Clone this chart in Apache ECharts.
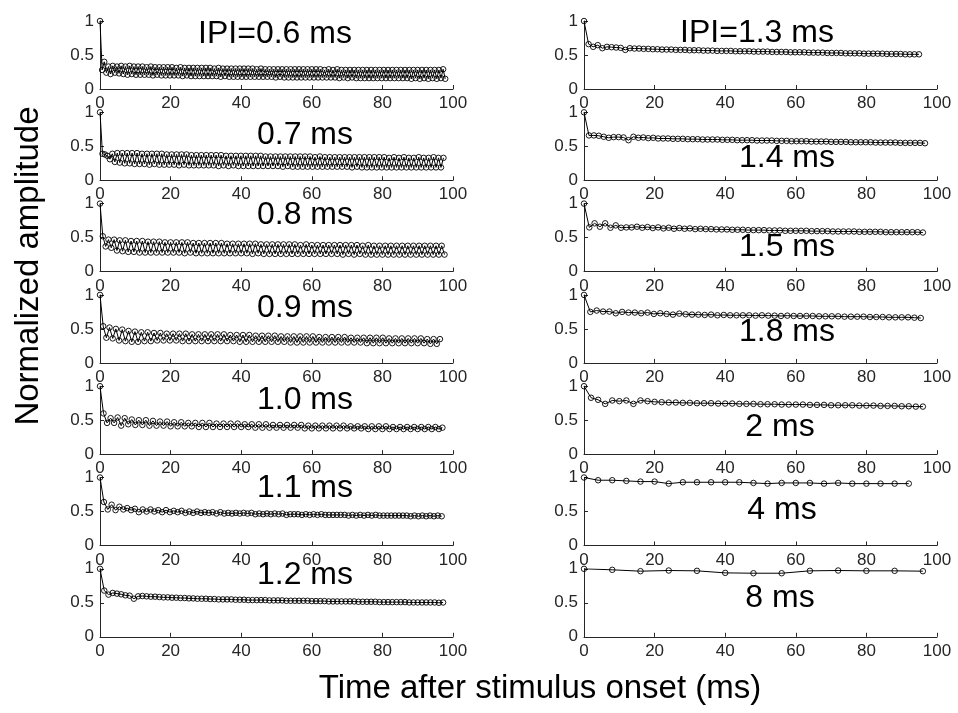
<!DOCTYPE html>
<html><head><meta charset="utf-8">
<script src="https://cdn.jsdelivr.net/npm/echarts@6/dist/echarts.min.js"></script>
<style>html,body{margin:0;padding:0;background:#fff}#c{width:958px;height:713px}</style>
</head><body><div id="c"></div>
<script>
const ipiMs = [0.6,0.7,0.8,0.9,1.0,1.1,1.2,1.3,1.4,1.5,1.8,2,4,8];
const panelTitles = ['IPI=0.6 ms','0.7 ms','0.8 ms','0.9 ms','1.0 ms','1.1 ms','1.2 ms','IPI=1.3 ms','1.4 ms','1.5 ms','1.8 ms','2 ms','4 ms','8 ms'];
const xTicks = [0,20,40,60,80,100];
const yTicks = [0,0.5,1];
const xLabel = 'Time after stimulus onset (ms)';
const yLabel = 'Normalized amplitude';

const amp06 = [1,.28,.40,.24,.33,.22,.34,.24,.33,.23,
.34,.22,.33,.21,.34,.22,.33,.21,.33,.21,
.33,.21,.32,.21,.33,.20,.32,.21,.32,.20,
.32,.20,.32,.20,.32,.20,.31,.20,.32,.19,
.31,.20,.31,.19,.31,.19,.31,.19,.31,.19,
.31,.19,.31,.19,.30,.19,.31,.18,.30,.19,
.30,.18,.30,.18,.30,.18,.30,.18,.30,.18,
.30,.18,.30,.18,.29,.18,.30,.18,.29,.18,
.29,.18,.29,.17,.29,.18,.29,.17,.29,.17,
.29,.17,.29,.17,.29,.17,.29,.17,.29,.17,
.29,.17,.29,.17,.29,.17,.28,.17,.29,.17,
.28,.17,.29,.16,.28,.17,.28,.16,.28,.17,
.28,.16,.28,.16,.28,.16,.28,.16,.28,.16,
.28,.16,.28,.16,.28,.16,.28,.16,.28,.16,
.28,.16,.28,.16,.28,.16,.28,.15,.28,.16,
.28,.15,.28,.16,.28,.15,.28,.16,.28,.15,
.28,.16,.29,.15];
const amp07 = [1,.39,.38,.36,.31,.39,.27,.40,.26,.40,
.25,.40,.25,.40,.24,.40,.24,.39,.24,.39,
.23,.39,.24,.39,.23,.39,.23,.38,.23,.38,
.23,.38,.22,.38,.23,.38,.22,.37,.22,.37,
.22,.37,.22,.37,.22,.37,.22,.37,.21,.37,
.22,.36,.21,.36,.22,.36,.21,.36,.21,.36,
.21,.36,.21,.36,.21,.36,.21,.35,.21,.35,
.21,.35,.21,.35,.20,.35,.21,.35,.20,.35,
.20,.35,.20,.35,.20,.35,.20,.34,.20,.35,
.20,.34,.20,.34,.20,.34,.20,.34,.20,.34,
.20,.34,.19,.34,.20,.34,.19,.34,.19,.34,
.19,.34,.19,.34,.19,.34,.19,.33,.19,.34,
.19,.33,.19,.34,.19,.33,.19,.33,.19,.34,
.19,.33,.19,.33,.19,.34,.19,.33,.19,.33];
const amp08 = [1,.52,.37,.47,.35,.47,.31,.46,.30,.46,
.29,.45,.29,.45,.28,.45,.28,.44,.28,.44,
.28,.44,.28,.43,.28,.43,.28,.43,.28,.43,
.27,.43,.28,.42,.27,.42,.27,.42,.27,.42,
.27,.42,.27,.42,.27,.41,.27,.41,.27,.41,
.27,.41,.27,.41,.26,.41,.27,.40,.26,.40,
.26,.40,.26,.40,.26,.40,.26,.40,.26,.40,
.26,.39,.26,.40,.26,.39,.26,.39,.26,.39,
.26,.39,.26,.39,.26,.39,.25,.39,.26,.39,
.25,.39,.26,.38,.25,.39,.25,.38,.25,.38,
.25,.38,.25,.38,.25,.38,.25,.38,.25,.38,
.25,.38,.25,.38,.25,.38,.25,.38,.25,.38,
.25,.38,.25];
const amp09 = [1,.54,.37,.52,.36,.50,.33,.49,.32,.47,
.31,.46,.31,.45,.32,.45,.32,.44,.33,.44,
.33,.43,.33,.43,.33,.43,.32,.43,.32,.42,
.32,.42,.32,.42,.32,.42,.32,.42,.32,.42,
.32,.41,.32,.41,.31,.41,.31,.41,.31,.40,
.31,.40,.31,.40,.31,.40,.31,.39,.31,.39,
.30,.39,.30,.39,.30,.39,.30,.39,.30,.38,
.30,.38,.30,.38,.30,.38,.30,.38,.30,.37,
.30,.37,.30,.37,.29,.37,.29,.37,.29,.37,
.29,.36,.29,.36,.29,.36,.29,.36,.29,.36,
.29,.36,.29,.35,.28,.35,.28,.35];
const amp10 = [1,.60,.46,.53,.46,.54,.42,.53,.44,.51,
.43,.50,.43,.50,.42,.49,.42,.48,.42,.48,
.41,.47,.41,.47,.41,.46,.41,.46,.40,.46,
.40,.46,.40,.45,.40,.45,.40,.45,.40,.45,
.40,.44,.40,.44,.39,.44,.39,.44,.39,.43,
.39,.43,.39,.43,.39,.43,.39,.43,.38,.42,
.38,.42,.38,.42,.38,.42,.38,.42,.38,.42,
.38,.41,.38,.41,.38,.41,.37,.41,.37,.41,
.37,.41,.37,.40,.37,.40,.37,.40,.37,.40,
.37,.40,.37,.40,.37,.40,.37,.39];
const amp11 = [1,.64,.53,.60,.52,.57,.53,.55,.52,.54,
.49,.53,.50,.53,.50,.52,.49,.52,.49,.51,
.49,.51,.48,.50,.48,.50,.48,.49,.48,.49,
.47,.49,.47,.48,.47,.48,.47,.48,.47,.48,
.46,.47,.46,.47,.46,.47,.46,.47,.45,.46,
.46,.46,.45,.46,.45,.46,.45,.46,.45,.45,
.45,.45,.45,.45,.44,.45,.44,.45,.44,.45,
.44,.45,.44,.44,.44,.44,.44,.44,.44,.44,
.43,.44,.43,.44,.43,.44,.43,.44,.43];
const amp12 = [1,.68,.62,.645,.635,.625,.61,.605,.56,.595,
.60,.595,.59,.59,.585,.58,.58,.575,.575,.57,
.57,.565,.565,.56,.56,.56,.555,.555,.55,.55,
.55,.55,.545,.545,.545,.54,.54,.54,.54,.54,
.535,.535,.535,.535,.53,.53,.53,.53,.53,.53,
.525,.525,.525,.525,.52,.52,.52,.52,.52,.52,
.52,.515,.515,.515,.515,.515,.51,.51,.51,.51,
.51,.51,.51,.505,.505,.505,.505,.505,.505,.505,.50,.505];
const amp13 = [1,.66,.62,.645,.60,.62,.615,.61,.605,.575,
.60,.595,.595,.59,.59,.585,.585,.58,.58,.58,
.575,.575,.575,.57,.57,.57,.565,.565,.565,.56,
.56,.56,.56,.555,.555,.555,.555,.55,.55,.55,
.55,.545,.545,.545,.545,.54,.54,.54,.54,.535,
.535,.535,.535,.53,.53,.53,.53,.525,.525,.525,
.525,.52,.52,.52,.52,.52,.515,.515,.515,.515,.51,.51,.51,.51];
const amp14 = [1,.66,.66,.655,.64,.625,.635,.635,.63,.59,
.64,.625,.63,.62,.625,.615,.615,.615,.61,.61,
.61,.605,.605,.605,.60,.60,.60,.60,.595,.595,
.595,.59,.59,.59,.59,.585,.585,.585,.585,.58,
.58,.58,.575,.575,.575,.575,.57,.57,.57,.57,
.565,.565,.565,.565,.56,.56,.56,.56,.56,.555,
.555,.555,.555,.555,.55,.55,.55,.55,.55,.545];
const amp15 = [1,.65,.71,.66,.71,.645,.68,.645,.65,.65,
.66,.645,.655,.64,.65,.635,.645,.63,.64,.63,
.635,.625,.63,.625,.625,.62,.62,.62,.615,.615,
.615,.61,.61,.61,.61,.605,.605,.605,.60,.60,
.60,.60,.60,.595,.595,.595,.595,.59,.59,.59,
.59,.59,.585,.585,.585,.585,.585,.58,.58,.58,
.58,.58,.58,.58,.575];
const amp18 = [1,.75,.77,.755,.755,.73,.75,.74,.74,.73,
.74,.72,.73,.72,.71,.725,.715,.71,.71,.705,
.71,.70,.705,.70,.70,.70,.70,.695,.70,.695,
.695,.69,.695,.69,.69,.69,.69,.685,.685,.685,
.685,.68,.68,.68,.68,.675,.675,.675,.67,.67,
.67,.67,.665,.66];
const amp20 = [1,.83,.80,.74,.79,.78,.79,.74,.79,.78,
.77,.765,.76,.76,.755,.755,.75,.75,.75,.745,
.745,.745,.74,.74,.74,.735,.735,.735,.73,.73,
.73,.73,.725,.725,.725,.72,.72,.72,.72,.715,
.715,.715,.71,.71,.71,.705,.705,.70,.70];
const amp40 = [1,.96,.96,.95,.94,.94,.91,.93,.93,.93,.93,.93,.92,.91,.92,.92,.92,.91,.92,.91,.91,.91,.91,.91];
const amp80 = [1,.985,.965,.975,.97,.94,.935,.935,.97,.975,.97,.97,.965];

const ampSeries = [amp06,amp07,amp08,amp09,amp10,amp11,amp12,amp13,amp14,amp15,amp18,amp20,amp40,amp80];

// layout
const FONT = '"Liberation Sans", Arial, Helvetica, sans-serif';
const colLeft = [100, 584];
const plotW = 353, plotH = 68, firstTop = 21, rowStep = 91.3;
const titlePos = [[275,34],[305,135],[305,215],[305,308],[305,400],[305,488],[305,575],
                  [757,33],[787,158],[787,247],[787,332],[780,427],[782,510],[780,598]];

const grids = [], xAxes = [], yAxes = [], series = [], graphics = [];
ampSeries.forEach((arr, i) => {
  const col = i < 7 ? 0 : 1, row = i % 7;
  grids.push({left: colLeft[col], top: firstTop + row * rowStep, width: plotW, height: plotH});
  xAxes.push({type:'value', gridIndex:i, min:xTicks[0], max:xTicks[xTicks.length-1], interval:xTicks[1]-xTicks[0],
    axisLine:{show:true, onZero:false, lineStyle:{color:'#262626', width:1}},
    axisTick:{show:true, inside:true, length:4, lineStyle:{color:'#262626'}},
    axisLabel:{show:true, margin:6, color:'#262626', fontSize:17, fontFamily:FONT},
    splitLine:{show:false}});
  yAxes.push({type:'value', gridIndex:i, min:yTicks[0], max:yTicks[yTicks.length-1], interval:yTicks[1]-yTicks[0],
    axisLine:{show:true, onZero:false, lineStyle:{color:'#262626', width:1}},
    axisTick:{show:true, inside:true, length:4, lineStyle:{color:'#262626'}},
    axisLabel:{show:true, margin:6, color:'#262626', fontSize:17, fontFamily:FONT},
    splitLine:{show:false}});
  series.push({type:'line', xAxisIndex:i, yAxisIndex:i,
    data: arr.map((v, k) => [k * ipiMs[i], v]),
    symbol:'circle', symbolSize:5.5, showSymbol:true, showAllSymbol:true,
    lineStyle:{color:'#000', width:1},
    itemStyle:{color:'rgba(0,0,0,0)', borderColor:'#000', borderWidth:0.9},
    emphasis:{disabled:true}, silent:true});
  graphics.push({type:'text', x:titlePos[i][0], y:titlePos[i][1],
    style:{text:panelTitles[i], fontSize:32, fontFamily:FONT, fill:'#000', align:'center', verticalAlign:'middle'}});
});
graphics.push({type:'text', x:540, y:689, style:{text:xLabel, fontSize:33, fontFamily:FONT, fill:'#000', align:'center', verticalAlign:'middle'}});
graphics.push({type:'text', x:29, y:266, rotation:Math.PI/2, style:{text:yLabel, fontSize:33, fontFamily:FONT, fill:'#000', align:'center', verticalAlign:'middle'}});

const chart = echarts.init(document.getElementById('c'), null, {renderer:'canvas'});
chart.setOption({animation:false, backgroundColor:'#fff', grid:grids, xAxis:xAxes, yAxis:yAxes, series:series, graphic:graphics});
</script></body></html>
